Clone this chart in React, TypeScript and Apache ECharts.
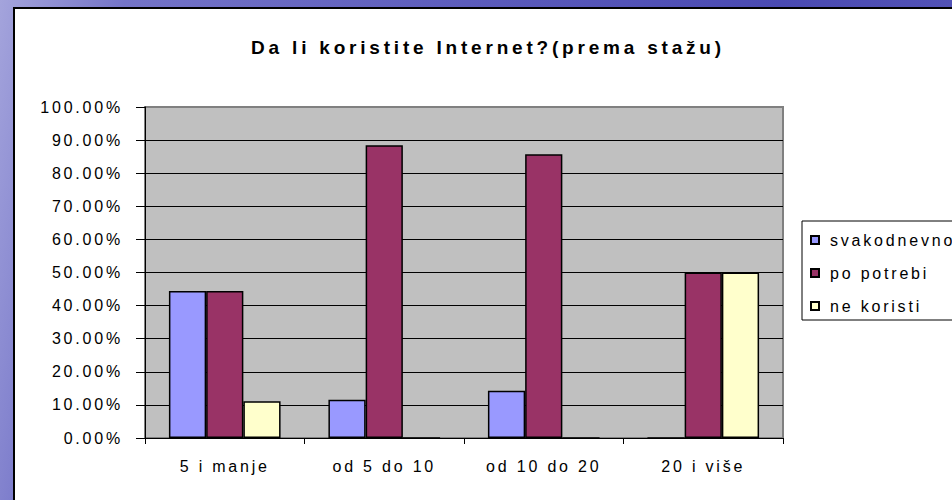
import React, { useEffect, useRef } from "react";
import * as echarts from "echarts";

const categories = ["5 i manje", "od 5 do 10", "od 10 do 20", "20 i više"];
const seriesNames = ["svakodnevno", "po potrebi", "ne koristi"];
const svakodnevno = [44.44, 11.54, 14.29, 0];
const poPotrebi = [44.44, 88.46, 85.71, 50.0];
const neKoristi = [11.11, 0, 0, 50.0];
const seriesColors = ["#9999FF", "#993366", "#FFFFCC"];
const titleText = "Da li koristite Internet?(prema stažu)";

const FONT = "'Liberation Sans', Arial, sans-serif";

export default function App() {
  const ref = useRef<HTMLDivElement>(null);

  useEffect(() => {
    if (!ref.current) return;
    const chart = echarts.init(ref.current, null, { renderer: "svg" });
    const values = [svakodnevno, poPotrebi, neKoristi];
    chart.setOption({
      animation: false,
      backgroundColor: "transparent",
      textStyle: { fontFamily: FONT },
      graphic: [
        {
          type: "text",
          x: 488,
          y: 47,
          style: {
            text: titleText,
            fontFamily: FONT,
            fontSize: 19,
            fontWeight: "bold",
            fill: "#000",
            textAlign: "center",
            textVerticalAlign: "middle",
          },
        },
      ],
      legend: {
        orient: "vertical",
        left: 802,
        top: 221,
        data: seriesNames,
        icon: "rect",
        itemWidth: 8,
        itemHeight: 8,
        itemGap: 17,
        padding: [11, 40, 6, 8],
        borderColor: "#000",
        borderWidth: 1,
        backgroundColor: "#fff",
        textStyle: {
          fontFamily: FONT,
          fontSize: 16,
          lineHeight: 16,
          color: "#000",
          padding: [0, 0, 0, 6],
        },
      },
      grid: {
        left: 145,
        right: 169,
        top: 107,
        bottom: 62,
        show: true,
        backgroundColor: "#C0C0C0",
        borderColor: "#808080",
        borderWidth: 2,
      },
      xAxis: {
        type: "category",
        data: categories,
        boundaryGap: true,
        axisLine: { show: true, lineStyle: { color: "#000", width: 1 } },
        axisTick: { show: true, length: 6, alignWithLabel: false, lineStyle: { color: "#000" } },
        axisLabel: { color: "#000", fontSize: 16, fontFamily: FONT, margin: 20 },
        splitLine: { show: false },
      },
      yAxis: {
        type: "value",
        min: 0,
        max: 100,
        interval: 10,
        axisLine: { show: true, lineStyle: { color: "#000", width: 1 } },
        axisTick: { show: true, length: 9, lineStyle: { color: "#000" } },
        axisLabel: {
          color: "#000",
          fontSize: 16,
          fontFamily: FONT,
          margin: 22,
          formatter: (v: number) => v.toFixed(2) + "%",
        },
        splitLine: {
          show: true,
          showMinLine: false,
          showMaxLine: false,
          lineStyle: { color: "#000", width: 1 },
        },
      },
      series: seriesNames.map((name, i) => ({
        name,
        type: "bar",
        data: values[i],
        barGap: "0%",
        barCategoryGap: "30%",
        itemStyle: { color: seriesColors[i], borderColor: "#000", borderWidth: 1.5 },
      })),
    });
    return () => chart.dispose();
  }, []);

  return (
    <div
      style={{
        position: "fixed",
        left: 0,
        top: 0,
        width: 952,
        height: 500,
        overflow: "hidden",
        background:
          "linear-gradient(100deg, #a4a4dc 0%, #7474c8 12%, #5c5cbc 45%, #4a4ab2 75%, #5656b8 100%)",
      }}
    >
      <style>{`
        #root svg text { letter-spacing: 2.8px; }
        #root svg text[style*="bold"] { letter-spacing: 3.8px; }
      `}</style>
      <div
        style={{
          position: "absolute",
          left: 13,
          top: 7,
          width: 1000,
          height: 600,
          background: "#fff",
          border: "2px solid #000",
        }}
      />
      <div ref={ref} style={{ position: "absolute", left: 0, top: 0, width: 952, height: 500 }} />
    </div>
  );
}
